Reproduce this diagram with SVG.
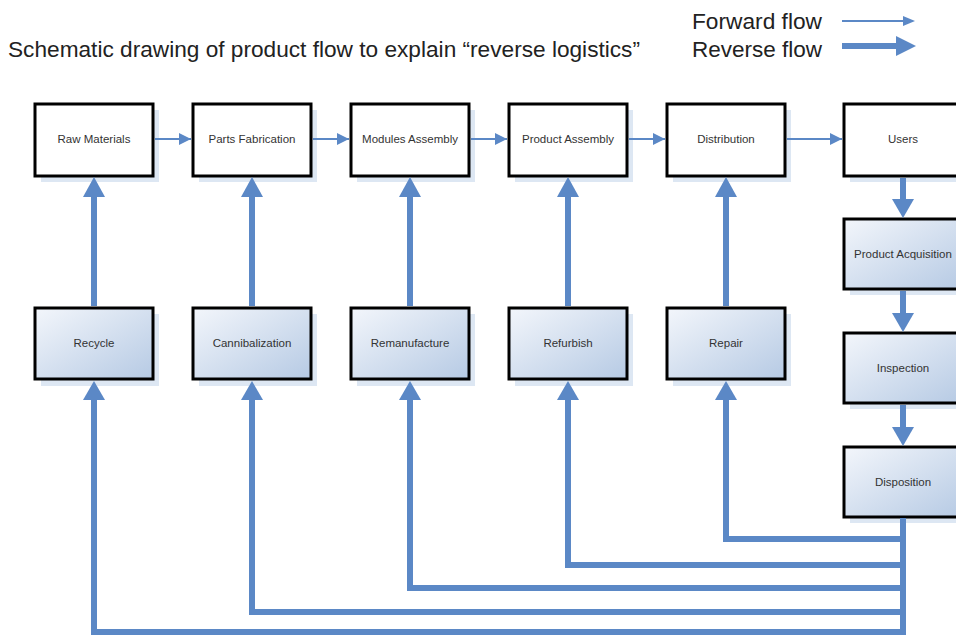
<svg xmlns="http://www.w3.org/2000/svg" width="956" height="635" viewBox="0 0 956 635">
<defs>
<linearGradient id="g" x1="0" y1="0" x2="1" y2="1">
<stop offset="0" stop-color="#f3f6fb"/>
<stop offset="1" stop-color="#b6cae4"/>
</linearGradient>
<marker id="fa" markerWidth="12" markerHeight="12" refX="10" refY="5" orient="auto" markerUnits="userSpaceOnUse" viewBox="0 0 10 10">
<path d="M0,0 L10,5 L0,10 Z" fill="#5b88c6"/>
</marker>
</defs>
<style>
.bx{stroke:#000;stroke-width:3}
.w{fill:#fff}
.b{fill:url(#g)}
.sh{fill:#dde7f3}
.t{font-family:"Liberation Sans",Arial,sans-serif;font-size:11.5px;fill:#333;text-anchor:middle}
.hd{font-family:"Liberation Sans",Arial,sans-serif;font-size:22px;fill:#222}
.fw{stroke:#5b88c6;stroke-width:2;fill:none}
.rv{stroke:#5b88c6;stroke-width:6;fill:none;stroke-linejoin:miter}
.ah{fill:#5b88c6}
</style>
<text class="hd" x="8" y="57" textLength="632" lengthAdjust="spacingAndGlyphs">Schematic drawing of product flow to explain “reverse logistics”</text>
<g id="legend">
<text class="hd" x="692" y="29" textLength="130" lengthAdjust="spacingAndGlyphs">Forward flow</text>
<text class="hd" x="692" y="57" textLength="130" lengthAdjust="spacingAndGlyphs">Reverse flow</text>
<line class="fw" x1="842" y1="21" x2="904" y2="21"/>
<path class="ah" d="M903,16 L915,21 L903,26 Z"/>
<line class="rv" x1="842" y1="46" x2="898" y2="46"/>
<path class="ah" d="M896,36 L916,46 L896,56 Z"/>
</g>
<g id="raw"><rect class="sh" x="41" y="110" width="118" height="72"/><rect class="bx w" x="35" y="104" width="118" height="72"/><text class="t" x="94" y="143">Raw Materials</text></g>
<g id="parts"><rect class="sh" x="199" y="110" width="118" height="72"/><rect class="bx w" x="193" y="104" width="118" height="72"/><text class="t" x="252" y="143">Parts Fabrication</text></g>
<g id="modules"><rect class="sh" x="357" y="110" width="118" height="72"/><rect class="bx w" x="351" y="104" width="118" height="72"/><text class="t" x="410" y="143">Modules Assembly</text></g>
<g id="product"><rect class="sh" x="515" y="110" width="118" height="72"/><rect class="bx w" x="509" y="104" width="118" height="72"/><text class="t" x="568" y="143">Product Assembly</text></g>
<g id="distribution"><rect class="sh" x="673" y="110" width="118" height="72"/><rect class="bx w" x="667" y="104" width="118" height="72"/><text class="t" x="726" y="143">Distribution</text></g>
<g id="users"><rect class="sh" x="850" y="110" width="118" height="72"/><rect class="bx w" x="844" y="104" width="118" height="72"/><text class="t" x="903" y="143">Users</text></g>
<g id="acquisition"><rect class="sh" x="850" y="225" width="118" height="70"/><rect class="bx b" x="844" y="219" width="118" height="70"/><text class="t" x="903" y="258">Product Acquisition</text></g>
<g id="inspection"><rect class="sh" x="850" y="339" width="118" height="70"/><rect class="bx b" x="844" y="333" width="118" height="70"/><text class="t" x="903" y="372">Inspection</text></g>
<g id="disposition"><rect class="sh" x="850" y="453" width="118" height="70"/><rect class="bx b" x="844" y="447" width="118" height="70"/><text class="t" x="903" y="486">Disposition</text></g>
<g id="recycle"><rect class="sh" x="41" y="314" width="118" height="72"/><rect class="bx b" x="35" y="308" width="118" height="71"/><text class="t" x="94" y="347">Recycle</text></g>
<g id="cannibalization"><rect class="sh" x="199" y="314" width="118" height="72"/><rect class="bx b" x="193" y="308" width="118" height="71"/><text class="t" x="252" y="347">Cannibalization</text></g>
<g id="remanufacture"><rect class="sh" x="357" y="314" width="118" height="72"/><rect class="bx b" x="351" y="308" width="118" height="71"/><text class="t" x="410" y="347">Remanufacture</text></g>
<g id="refurbish"><rect class="sh" x="515" y="314" width="118" height="72"/><rect class="bx b" x="509" y="308" width="118" height="71"/><text class="t" x="568" y="347">Refurbish</text></g>
<g id="repair"><rect class="sh" x="673" y="314" width="118" height="72"/><rect class="bx b" x="667" y="308" width="118" height="71"/><text class="t" x="726" y="347">Repair</text></g>
<g id="connectors">
<line class="fw" x1="155" y1="139" x2="191" y2="139" marker-end="url(#fa)"/>
<line class="fw" x1="313" y1="139" x2="349" y2="139" marker-end="url(#fa)"/>
<line class="fw" x1="471" y1="139" x2="507" y2="139" marker-end="url(#fa)"/>
<line class="fw" x1="629" y1="139" x2="665" y2="139" marker-end="url(#fa)"/>
<line class="fw" x1="787" y1="139" x2="842" y2="139" marker-end="url(#fa)"/>
<line class="rv" x1="94" y1="306" x2="94" y2="194"/><path class="ah" d="M83,197 L94,177 L105,197 Z"/>
<line class="rv" x1="252" y1="306" x2="252" y2="194"/><path class="ah" d="M241,197 L252,177 L263,197 Z"/>
<line class="rv" x1="410" y1="306" x2="410" y2="194"/><path class="ah" d="M399,197 L410,177 L421,197 Z"/>
<line class="rv" x1="568" y1="306" x2="568" y2="194"/><path class="ah" d="M557,197 L568,177 L579,197 Z"/>
<line class="rv" x1="726" y1="306" x2="726" y2="194"/><path class="ah" d="M715,197 L726,177 L737,197 Z"/>
<line class="rv" x1="903" y1="178" x2="903" y2="202"/><path class="ah" d="M892,199 L903,218 L914,199 Z"/>
<line class="rv" x1="903" y1="291" x2="903" y2="316"/><path class="ah" d="M892,313 L903,332 L914,313 Z"/>
<line class="rv" x1="903" y1="405" x2="903" y2="430"/><path class="ah" d="M892,427 L903,446 L914,427 Z"/>
<line class="rv" x1="903" y1="518" x2="903" y2="636"/>
<path class="rv" d="M903,539 H726 V398"/><path class="ah" d="M715,400 L726,381 L737,400 Z"/>
<path class="rv" d="M903,565 H568 V398"/><path class="ah" d="M557,400 L568,381 L579,400 Z"/>
<path class="rv" d="M903,588 H410 V398"/><path class="ah" d="M399,400 L410,381 L421,400 Z"/>
<path class="rv" d="M903,612 H252 V398"/><path class="ah" d="M241,400 L252,381 L263,400 Z"/>
<path class="rv" d="M903,632 H94 V398"/><path class="ah" d="M83,400 L94,381 L105,400 Z"/>
</g>
</svg>
